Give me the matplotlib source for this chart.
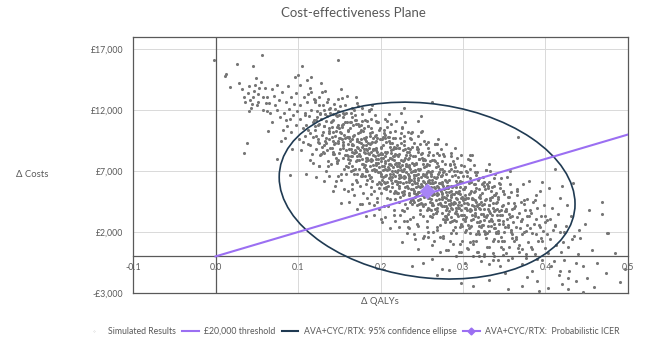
import matplotlib
matplotlib.use("Agg")
import matplotlib.pyplot as plt
from matplotlib.lines import Line2D
from matplotlib.patches import Circle
from matplotlib.transforms import Affine2D

plt.rcParams["font.family"] = ["Lato", "DejaVu Sans"]

# simulated results: (delta QALYs x1000, delta costs / 100)
sim_points = [
    (-2,161), (11,148), (13,150), (18,139),
    (26,158), (32,137), (35,85), (38,93), (34,131), (29,142),
    (46,156), (56,165), (42,128), (48,141), (51,133), (44,125), (53,138), (58,120), (49,146),
    (36,127), (39,134), (41,140), (43,122), (45,131), (47,136), (52,127), (55,143), (57,131), (60,138),
    (62,119), (65,126), (40,119), (50,124),
    (63,131), (66,118), (69,137), (72,124), (75,141), (61,126), (78,114), (64,103), (71,132), (77,128), (68,110), (74,120), (79,95),
    (81,135), (83,118), (84,97), (86,127), (87,107), (88,140), (89,121), (90,113), (91,102), (92,131), (93,88), (94,116), (95,125),
    (96,147), (97,108), (98,134), (99,119), (100,149), (85,112), (82,104), (105,156), (148,161), (74,80), (90,67),
    (101,96), (102,124), (103,113), (104,87), (106,105), (107,131), (108,118), (109,99), (110,108), (111,127), (112,92), (113,115),
    (114,138), (115,101), (116,120), (117,84), (118,110), (119,129), (103,141), (106,94), (109,116), (112,104), (114,79), (116,135),
    (118,98), (119,112), (111,145),
    (121,104), (122,88), (123,119), (124,96), (125,131), (126,109), (127,83), (128,113), (129,100), (130,124), (131,91), (132,107),
    (133,136), (134,97), (135,115), (136,78), (137,103), (138,121), (139,89), (140,110), (121,127), (122,99), (124,108), (125,74),
    (126,93), (127,117), (128,142), (130,102), (131,85), (132,120), (133,95), (134,111), (135,87), (136,129), (137,96), (138,105),
    (139,118), (122,112), (129,90), (134,70),
    (141,98), (142,84), (143,112), (144,92), (145,121), (146,103), (147,77), (148,108), (149,95), (150,116), (151,88), (152,101),
    (153,130), (154,91), (155,109), (156,72), (157,97), (158,118), (159,83), (160,104), (141,111), (142,95), (143,86), (144,125),
    (145,99), (146,81), (147,106), (148,93), (149,119), (150,85), (151,102), (152,68), (153,96), (154,114), (155,89), (156,100),
    (157,124), (158,87), (159,98), (160,80), (141,89), (143,102), (145,93), (147,115), (149,79), (151,97), (153,108), (155,94),
    (157,83), (159,110), (152,137), (146,62),
    (161,92), (162,77), (163,105), (164,88), (165,114), (166,96), (167,71), (168,100), (169,87), (170,109), (171,82), (172,95),
    (173,123), (174,84), (175,102), (176,66), (177,90), (178,111), (179,76), (180,97), (161,103), (162,88), (163,79), (164,118),
    (165,92), (166,74), (167,99), (168,85), (169,112), (170,78), (171,95), (172,61), (173,89), (174,107), (175,82), (176,93),
    (177,117), (178,80), (179,91), (180,73), (161,82), (163,95), (165,86), (167,108), (169,72), (171,90), (173,101), (175,87),
    (177,76), (179,103), (162,98), (164,70), (166,91), (168,120), (170,86), (172,79), (174,94), (176,104), (178,68), (180,88),
    (165,55), (170,131), (175,58), (171,126),
    (181,85), (182,70), (183,98), (184,81), (185,107), (186,89), (187,64), (188,93), (189,80), (190,102), (191,75), (192,88),
    (193,116), (194,77), (195,95), (196,59), (197,83), (198,104), (199,69), (200,90), (181,96), (182,81), (183,72), (184,111),
    (185,85), (186,67), (187,92), (188,78), (189,105), (190,71), (191,88), (192,54), (193,82), (194,100), (195,75), (196,86),
    (197,110), (198,73), (199,84), (200,66), (181,75), (183,88), (185,79), (187,101), (189,65), (191,83), (193,94), (195,80),
    (197,69), (199,96), (182,91), (184,63), (186,84), (188,113), (190,79), (192,72), (194,87), (196,97), (198,61), (200,81),
    (181,66), (183,78), (185,93), (187,74), (189,86), (191,97), (193,70), (195,89), (197,77), (199,60), (184,48), (190,124),
    (196,45), (186,120),
    (201,78), (202,63), (203,91), (204,74), (205,100), (206,82), (207,57), (208,86), (209,73), (210,95), (211,68), (212,81),
    (213,109), (214,70), (215,88), (216,52), (217,76), (218,97), (219,62), (220,83), (201,89), (202,74), (203,65), (204,104),
    (205,78), (206,60), (207,85), (208,71), (209,98), (210,64), (211,81), (212,47), (213,75), (214,93), (215,68), (216,79),
    (217,103), (218,66), (219,77), (220,59), (201,68), (203,81), (205,72), (207,94), (209,58), (211,76), (213,87), (215,73),
    (217,62), (219,89), (202,84), (204,56), (206,77), (208,106), (210,72), (212,65), (214,80), (216,90), (218,54), (220,74),
    (201,59), (203,71), (205,86), (207,67), (209,79), (211,90), (213,63), (215,82), (217,70), (219,53), (204,41), (210,117),
    (216,38), (206,113), (202,96), (208,61), (212,93), (214,57), (218,84), (220,69),
    (221,71), (222,56), (223,84), (224,67), (225,93), (226,75), (227,50), (228,79), (229,66), (230,88), (231,61), (232,74),
    (233,102), (234,63), (235,81), (236,45), (237,69), (238,90), (239,55), (240,76), (221,82), (222,67), (223,58), (224,97),
    (225,71), (226,53), (227,78), (228,64), (229,91), (230,57), (231,74), (232,40), (233,68), (234,86), (235,61), (236,72),
    (237,96), (238,59), (239,70), (240,52), (221,61), (223,74), (225,65), (227,87), (229,51), (231,69), (233,80), (235,66),
    (237,55), (239,82), (222,77), (224,49), (226,70), (228,99), (230,65), (232,58), (234,73), (236,83), (238,47), (240,67),
    (221,52), (223,64), (225,79), (227,60), (229,72), (231,83), (233,56), (235,75), (237,63), (239,46), (224,34), (230,110),
    (236,31), (226,106), (222,89), (228,54), (232,86), (234,50), (238,77), (240,62), (225,118), (233,24), (229,122), (237,101),
    (241,64), (242,49), (243,77), (244,60), (245,86), (246,68), (247,43), (248,72), (249,59), (250,81), (251,54), (252,67),
    (253,95), (254,56), (255,74), (256,38), (257,62), (258,83), (259,48), (260,69), (241,75), (242,60), (243,51), (244,90),
    (245,64), (246,46), (247,71), (248,57), (249,84), (250,50), (251,67), (252,33), (253,61), (254,79), (255,54), (256,65),
    (257,89), (258,52), (259,63), (260,45), (241,54), (243,67), (245,58), (247,80), (249,44), (251,62), (253,73), (255,59),
    (257,48), (259,75), (242,70), (244,42), (246,63), (248,92), (250,58), (252,51), (254,66), (256,76), (258,40), (260,60),
    (241,45), (243,57), (245,72), (247,53), (249,65), (251,76), (253,49), (255,68), (257,56), (259,39), (244,27), (250,103),
    (256,24), (246,99), (242,82), (248,47), (252,79), (254,43), (258,70), (260,55), (245,111), (253,17), (249,115), (257,94),
    (261,57), (262,42), (263,70), (264,53), (265,79), (266,61), (267,36), (268,65), (269,52), (270,74), (271,47), (272,60),
    (273,88), (274,49), (275,67), (276,31), (277,55), (278,76), (279,41), (280,62), (261,68), (262,53), (263,44), (264,83),
    (265,57), (266,39), (267,64), (268,50), (269,77), (270,43), (271,60), (272,26), (273,54), (274,72), (275,47), (276,58),
    (277,82), (278,45), (279,56), (280,38), (261,47), (263,60), (265,51), (267,73), (269,37), (271,55), (273,66), (275,52),
    (277,41), (279,68), (262,63), (264,35), (266,56), (268,85), (270,51), (272,44), (274,59), (276,69), (278,33), (280,53),
    (261,38), (263,50), (265,65), (267,46), (269,58), (271,69), (273,42), (275,61), (277,49), (279,32), (264,20), (270,96),
    (276,17), (266,92), (263,127), (268,40), (272,72), (274,36), (278,63), (280,48),
    (281,50), (282,35), (283,63), (284,46), (285,72), (286,54), (287,29), (288,58), (289,45), (290,67), (291,40), (292,53),
    (293,81), (294,42), (295,60), (296,24), (297,48), (298,69), (299,34), (300,55), (281,61), (282,46), (283,37), (284,76),
    (285,50), (286,32), (287,57), (288,43), (289,70), (290,36), (291,53), (292,19), (293,47), (294,65), (295,40), (296,51),
    (297,75), (298,38), (299,49), (300,31), (281,40), (283,53), (285,44), (287,66), (289,30), (291,48), (293,59), (295,45),
    (297,34), (299,61), (282,56), (284,28), (286,49), (288,78), (290,44), (292,37), (294,52), (296,62), (298,26), (300,46),
    (281,31), (283,43), (285,58), (287,39), (289,51), (291,62), (293,35), (295,54), (297,42), (299,25), (284,13), (290,89),
    (296,10), (286,85),
    (301,44), (302,29), (303,57), (304,40), (305,66), (306,48), (307,23), (308,52), (309,39), (310,61), (311,34), (312,47),
    (313,75), (314,36), (315,54), (316,18), (317,42), (318,63), (319,28), (320,49), (301,55), (302,40), (303,31), (304,70),
    (305,44), (306,26), (307,51), (308,37), (309,64), (310,30), (311,47), (312,13), (313,41), (314,59), (315,34), (316,45),
    (317,69), (318,32), (319,43), (320,25), (301,34), (303,47), (305,38), (307,60), (309,24), (311,42), (313,53), (315,39),
    (317,28), (319,55), (302,50), (304,22), (306,43), (308,72), (310,38), (312,31), (314,46), (316,56), (318,20), (320,40),
    (305,7), (311,83), (317,4), (309,79),
    (321,39), (322,24), (323,52), (324,35), (325,61), (326,43), (327,18), (328,47), (329,34), (330,56), (331,29), (332,42),
    (333,70), (334,31), (335,49), (336,13), (337,37), (338,58), (339,23), (340,44), (321,50), (322,35), (323,26), (324,65),
    (325,39), (326,21), (327,46), (328,32), (329,59), (330,25), (331,42), (332,8), (333,36), (334,54), (335,29), (336,40),
    (337,64), (338,27), (339,38), (340,20), (321,29), (323,42), (325,33), (327,55), (329,19), (331,37), (333,48), (335,34),
    (337,23), (339,50), (326,2), (332,76), (336,-3), (328,71),
    (341,34), (342,19), (343,47), (344,30), (345,56), (346,38), (347,13), (348,42), (349,29), (350,51), (351,24), (352,37),
    (353,65), (354,26), (355,44), (356,8), (357,32), (358,53), (359,18), (360,39), (341,45), (342,30), (343,21), (344,60),
    (345,34), (346,16), (347,41), (348,27), (349,54), (350,20), (351,37), (352,3), (353,31), (354,49), (355,24), (356,35),
    (357,59), (358,22), (359,33), (360,15), (345,-8), (351,-14), (357,70),
    (361,28), (362,13), (363,41), (364,24), (365,50), (366,32), (367,7), (368,36), (369,23), (370,45), (371,18), (372,31),
    (373,59), (374,20), (375,38), (376,2), (377,26), (378,47), (379,12), (380,33), (362,40), (364,16), (366,55), (368,9),
    (370,29), (372,-6), (374,43), (376,21), (378,-17), (380,62), (367,98), (371,-24),
    (381,23), (382,8), (383,36), (384,19), (385,45), (386,27), (387,2), (388,31), (389,18), (390,40), (391,13), (392,26),
    (393,54), (394,15), (395,33), (396,-3), (397,21), (398,42), (399,7), (400,28), (384,-12), (390,-20), (396,61), (388,50),
    (402,18), (403,3), (405,31), (406,14), (408,40), (409,22), (410,-4), (412,26), (413,9), (415,35), (416,-15), (417,20),
    (418,48), (419,4), (420,-23), (411,72), (404,56),
    (421,12), (423,-3), (425,25), (427,8), (429,-12), (431,33), (433,60), (435,17), (437,-20), (439,2), (426,42), (420,58),
    (442,15), (445,-8), (448,27), (450,-18), (453,38), (456,5), (459,-25),
    (463,-5), (468,45), (469,35), (473,-14), (476,19), (475,19),
    (484,3), (490,-21), (496,-10),
    (312,-24), (331,-19), (355,-27), (392,-28), (403,-26), (427,-27), (446,-29), (297,-22), (268,-15), (283,-11),
    (238,-8), (251,-5), (262,-2), (274,-10), (245,6), (226,12),
    # wider spread of the core
    (110,68), (112,133), (114,91), (116,147), (118,77),
    (120,107), (121,128), (122,65), (123,114), (124,94), (125,124), (126,74), (127,118), (128,84), (129,135),
    (130,86), (131,107), (132,62), (133,117), (134,93), (135,127), (136,74), (137,101), (138,66), (139,122),
    (140,76), (141,106), (142,54), (143,117), (144,84), (145,58), (146,116), (147,78), (148,129), (149,66),
    (150,97), (151,123), (152,44), (153,106), (154,81), (155,118), (156,55), (157,110), (158,68), (159,132),
    (160,73), (161,98), (162,45), (163,110), (164,82), (165,122), (166,59), (167,91), (168,50), (169,116),
    (170,63), (171,96), (172,39), (173,109), (174,72), (175,43), (176,108), (177,66), (178,122), (179,52),
    (180,86), (181,112), (182,33), (183,95), (184,70), (185,107), (186,44), (187,99), (188,57), (189,121),
    (190,62), (191,87), (192,34), (193,99), (194,71), (195,111), (196,48), (197,80), (198,39), (199,105),
    (200,52), (201,85), (202,28), (203,98), (204,61), (205,32), (206,97), (207,55), (208,111), (209,41),
    (210,76), (211,102), (212,23), (213,85), (214,60), (215,97), (216,34), (217,89), (218,47), (219,111),
    (220,52), (221,77), (222,24), (223,89), (224,61), (225,101), (226,38), (227,70), (228,29), (229,95),
    (230,43), (231,76), (232,19), (233,89), (234,52), (235,23), (236,88), (237,46), (238,102), (239,32),
    (240,67), (241,93), (242,14), (243,76), (244,51), (245,88), (246,25), (247,80), (248,38), (249,102),
    (250,43), (251,68), (252,15), (253,80), (254,52), (255,92), (256,29), (257,61), (258,20), (259,86),
    (260,33), (261,66), (262,9), (263,79), (264,42), (265,13), (266,78), (267,36), (268,92), (269,22),
    (270,57), (271,83), (272,4), (273,66), (274,41), (275,78), (276,15), (277,70), (278,28), (279,92),
    (280,33), (281,58), (282,5), (283,70), (284,42), (285,82), (286,19), (287,51), (288,10), (289,76),
    (290,24), (291,57), (292,0), (293,70), (294,33), (295,4), (296,69), (297,27), (298,83), (299,13),
    (300,48), (301,74), (302,-5), (303,57), (304,32), (305,69), (306,6), (307,61), (308,19), (309,83),
    (310,25), (311,48), (312,0), (313,59), (314,33), (315,69), (316,13), (317,41), (318,4), (319,64),
    (320,18), (321,48), (322,-4), (323,59), (324,26), (325,0), (326,58), (327,20), (328,71), (329,8),
    (330,39), (331,61), (332,-6), (333,46), (334,25), (335,57), (336,3), (337,50), (338,14), (339,68),
    (340,19), (341,39), (342,-3), (343,49), (344,27), (345,59), (346,8), (347,34), (348,1), (349,54),
    (350,13), (352,39), (354,-3), (356,49), (358,20), (360,-1), (362,44), (364,14), (366,54), (368,4),
    (370,29), (372,6), (374,46), (376,-1), (378,33), (381,38), (384,6), (387,46), (390,-2), (393,24),
    (396,13), (399,33), (402,30), (407,-8), (412,25), (417,-12), (422,20), (427,-18), (432,14), (437,-5), (441,22),
    (150,105), (152,63), (154,91), (156,117), (158,74), (160,54), (162,97), (164,110), (166,82), (168,68),
    (170,112), (172,68), (174,79), (176,96), (178,43), (180,105), (182,59), (184,87), (186,119), (188,51),
    (190,94), (192,42), (194,77), (196,110), (198,56), (200,31), (202,84), (204,101), (206,66), (208,48),
    (210,98), (212,54), (214,65), (216,82), (218,29), (220,91), (222,45), (224,73), (226,105), (228,37),
    (230,81), (232,29), (234,64), (236,97), (238,43), (240,18), (242,71), (244,88), (246,53), (248,35),
    (250,85), (252,41), (254,52), (256,69), (258,16), (260,78), (262,32), (264,60), (266,92), (268,24),
    (270,68), (272,16), (274,51), (276,84), (278,30), (280,5), (282,58), (284,75), (286,40), (288,22),
    (290,73), (292,29), (294,40), (296,57), (298,4), (300,66), (302,20), (304,48), (306,80), (308,12),
    (310,54), (312,10), (314,39), (316,67), (318,21), (320,0), (322,45), (324,60), (326,30), (328,15),
    (330,58), (332,21), (334,30), (336,44), (338,0), (340,52), (342,13), (344,37), (346,64), (348,6),
]
sim_qaly = [q / 1000 for q, c in sim_points]
sim_cost = [c * 100 for q, c in sim_points]

threshold_qaly = [0.0, 0.5]
threshold_cost = [0, 10000]

icer_qaly = [0.256]
icer_cost = [5350]

# 95% ellipse: centre plus the two conjugate half-axes (QALYs, costs)
ell_center = (0.2565, 5400)
ell_axis1 = (0.1793, -1100)
ell_axis2 = (0.0, 7170)

x_ticks = [-0.1, 0.0, 0.1, 0.2, 0.3, 0.4, 0.5]
x_tick_labels = ["-0.1", "0.0", "0.1", "0.2", "0.3", "0.4", "0.5"]
y_ticks = [-3000, 2000, 7000, 12000, 17000]
y_tick_labels = ["-£3,000", "£2,000", "£7,000", "£12,000", "£17,000"]

text_col = "#595959"
purple = "#9b6ff2"
navy = "#1f3a52"

fig = plt.figure(figsize=(6.53, 3.41), dpi=100)
ax = fig.add_axes([0.2037, 0.1408, 0.7580, 0.7507])

ax.set_xlim(-0.1, 0.5)
ax.set_ylim(-3000, 18000)
ax.set_xticks(x_ticks)
ax.set_xticklabels(x_tick_labels)
ax.set_yticks(y_ticks)
ax.set_yticklabels(y_tick_labels)
ax.tick_params(length=0, labelsize=6.3, labelcolor=text_col)
ax.tick_params(axis="x", pad=5)
ax.tick_params(axis="y", pad=7)
ax.grid(True, color="#d9d9d9", linewidth=0.7)
ax.set_axisbelow(True)

ax.spines["bottom"].set_position(("data", 0))
for s in ax.spines.values():
    s.set_color(text_col)
    s.set_linewidth(0.9)
ax.axhline(-3000, color=text_col, linewidth=0.9, clip_on=False)
ax.axvline(0, color=text_col, linewidth=0.9, zorder=1.5)

ax.scatter(sim_qaly, sim_cost, s=5, color="#767676", linewidths=0, zorder=2)

m = Affine2D.from_values(ell_axis1[0], ell_axis1[1], ell_axis2[0], ell_axis2[1],
                         ell_center[0], ell_center[1])
ax.add_patch(Circle((0, 0), 1, fill=False, edgecolor=navy, linewidth=1.2,
                    transform=m + ax.transData, zorder=3))

ax.plot(threshold_qaly, threshold_cost, color=purple, linewidth=1.5, zorder=4)
ax.plot(icer_qaly, icer_cost, marker="D", markersize=7, color="#a784f6",
        linestyle="none", zorder=5)

fig.text(0.541, 0.963, "Cost-effectiveness Plane", ha="center", va="center",
         fontsize=9.5, color=text_col)
fig.text(0.0498, 0.487, "Δ Costs", ha="center", va="center", fontsize=6.8,
         color=text_col)
fig.text(0.582, 0.1144, "Δ QALYs", ha="center", va="center", fontsize=6.8,
         color=text_col)

handles = [
    Line2D([], [], linestyle="none", marker="o", markersize=0.1, color="#7a7a7a"),
    Line2D([], [], color=purple, linewidth=1.5),
    Line2D([], [], color=navy, linewidth=1.5),
    Line2D([], [], color=purple, linewidth=1.5, marker="D", markersize=3.5),
]
labels = ["Simulated Results", "£20,000 threshold",
          "AVA+CYC/RTX: 95% confidence ellipse", "AVA+CYC/RTX:  Probabilistic ICER"]
fig.legend(handles, labels, loc="center", bbox_to_anchor=(0.54, 0.028), ncol=4,
           frameon=False, fontsize=6.3, labelcolor=text_col, handlelength=1.9,
           handletextpad=0.6, columnspacing=0.75)

fig.savefig("out.png", dpi=100)
